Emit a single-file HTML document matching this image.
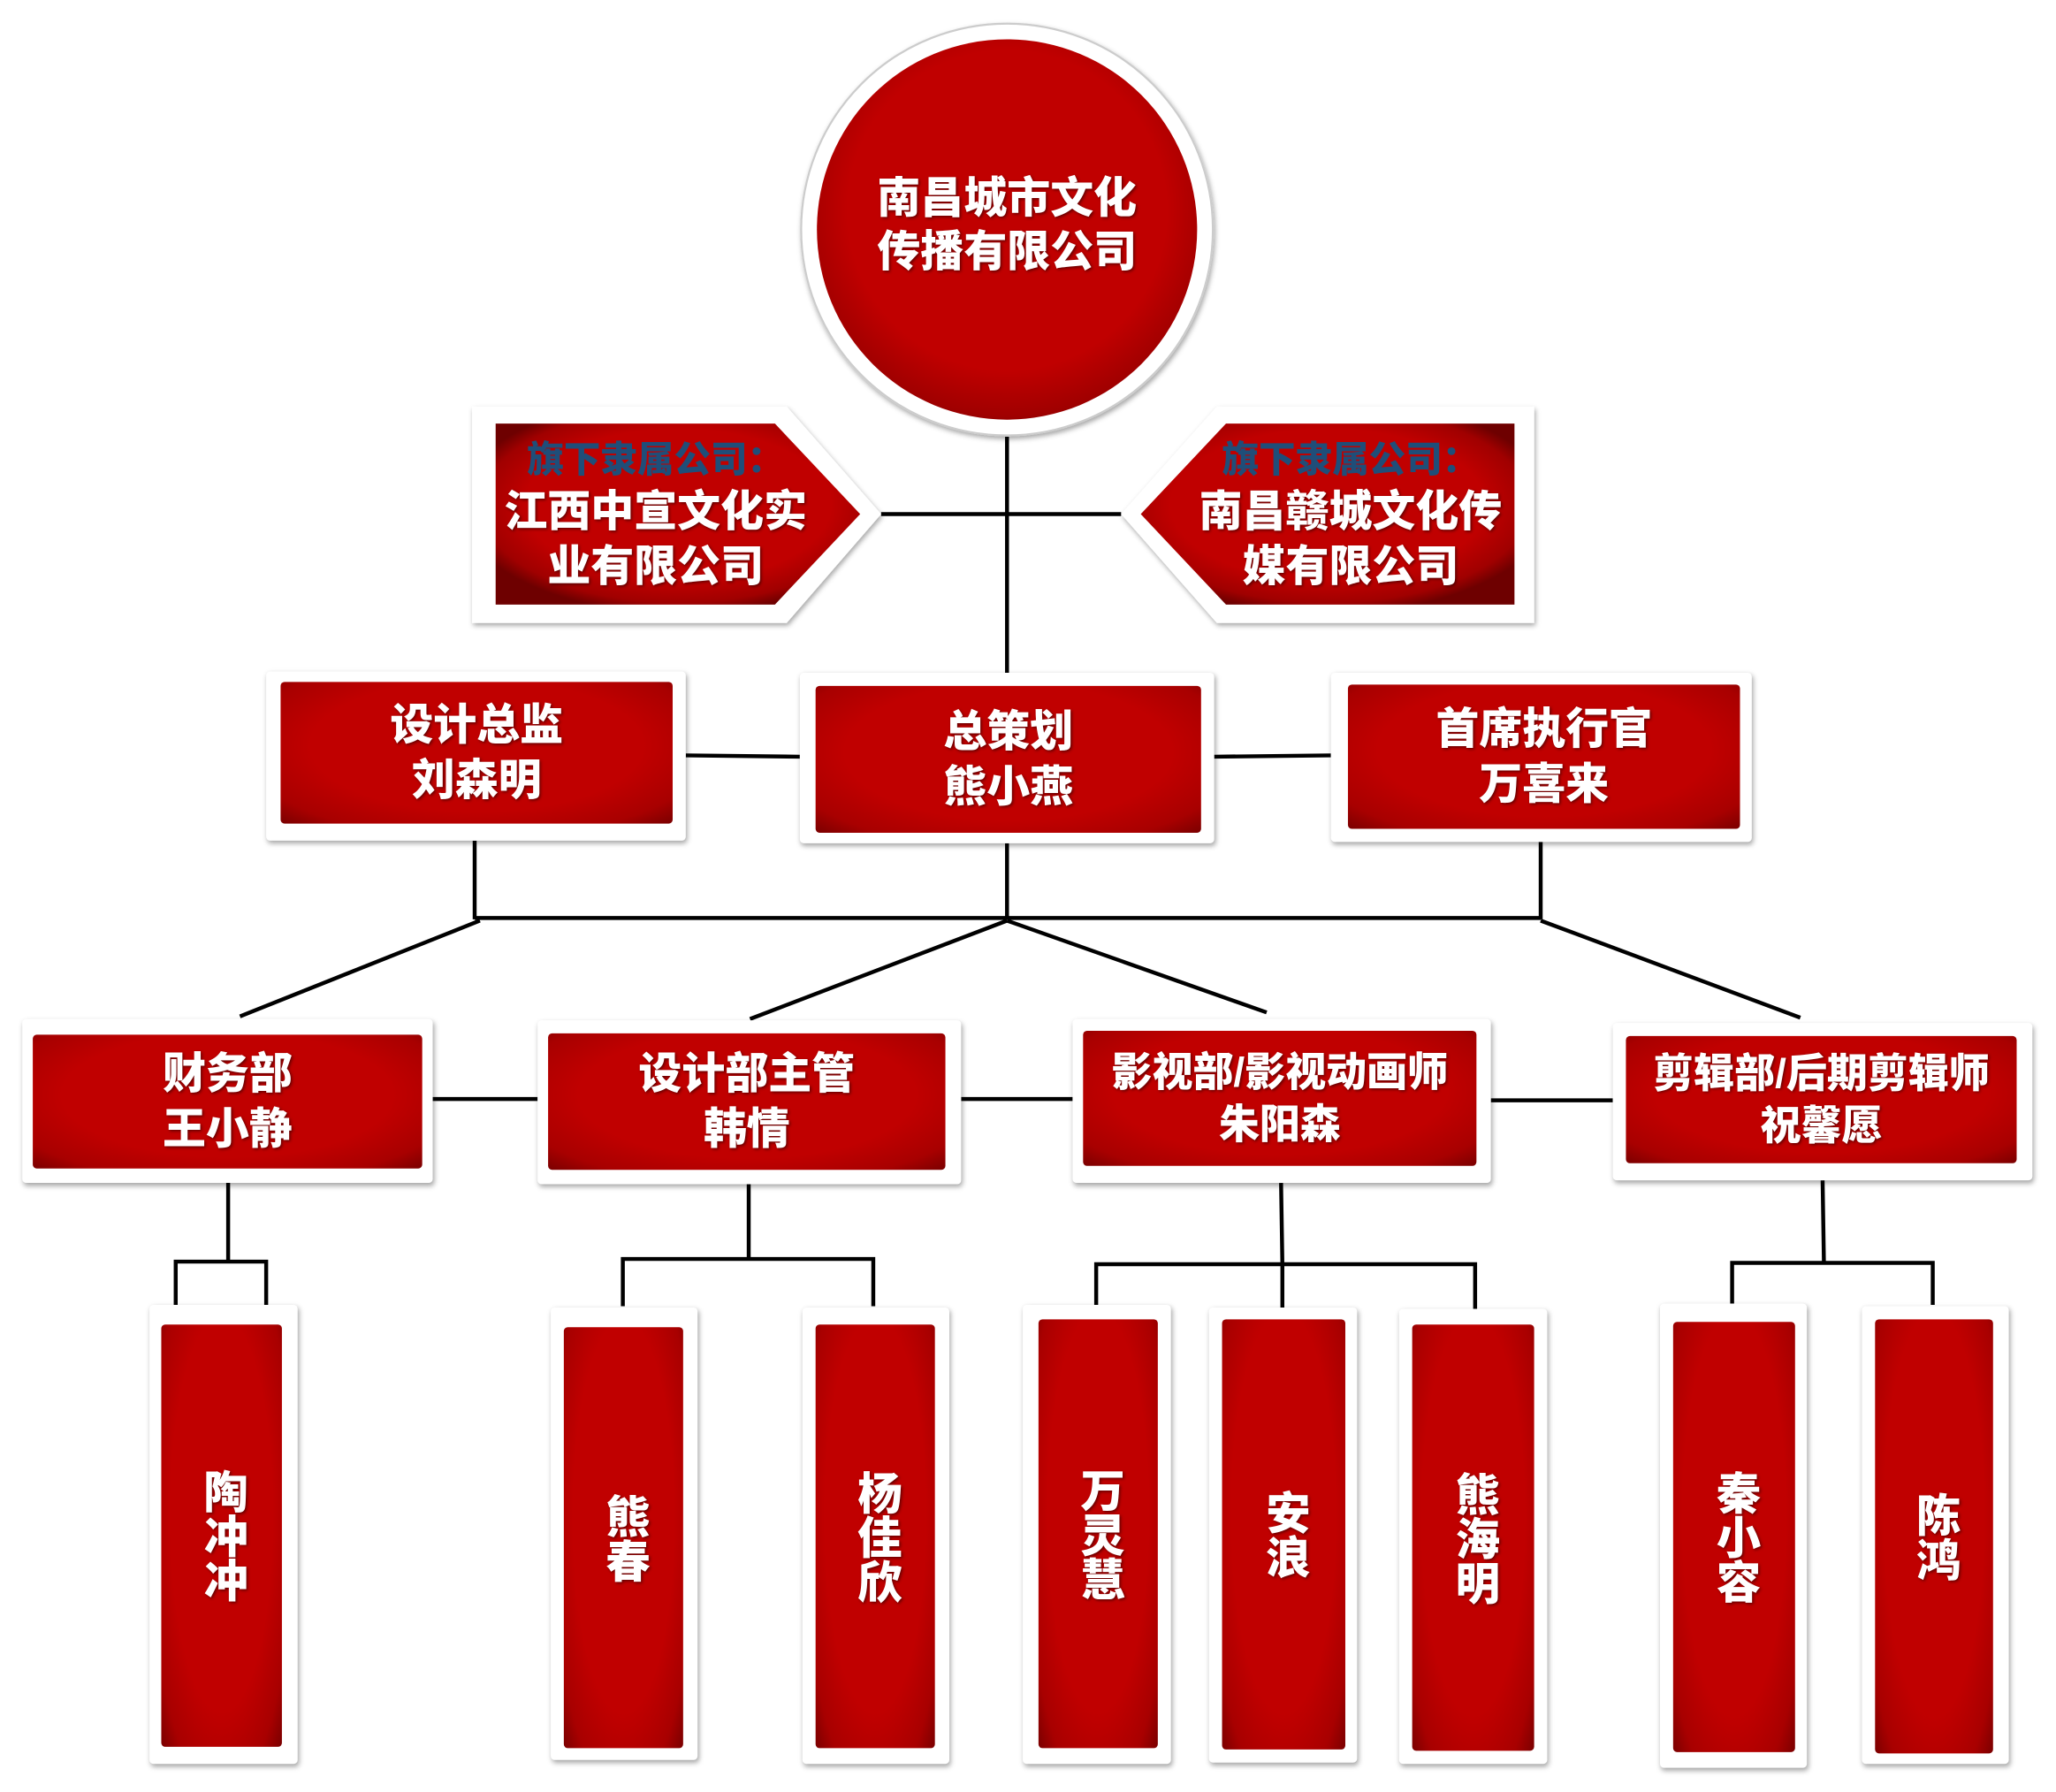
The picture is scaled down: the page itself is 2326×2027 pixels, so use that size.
<!DOCTYPE html>
<html><head><meta charset="utf-8">
<style>
html,body{margin:0;padding:0;background:#fff;width:2326px;height:2027px;overflow:hidden}
#w{position:absolute;left:0;top:0;width:1568px;height:1366px;transform:scale(1.48342);transform-origin:0 0;font-family:"Liberation Sans","Noto Sans CJK SC",sans-serif}
.f{position:absolute;background:#fff;box-shadow:1px 2px 4px rgba(0,0,0,.35);border-radius:3px}
.r{position:absolute;background:radial-gradient(ellipse at 50% 45%,#c00000 60%,#a80000 85%,#7a0000 100%);border-radius:3px;color:#fff;font-weight:900;display:flex;align-items:center;justify-content:center;text-align:center;text-shadow:1px 1px 2px rgba(0,0,0,.5);line-height:1.27}
.v{writing-mode:vertical-rl;font-size:34px;letter-spacing:0;line-height:1}
svg{position:absolute;left:0;top:0}
.t{position:absolute;color:#fff;font-weight:900;text-align:center;text-shadow:1px 1px 2px rgba(0,0,0,.5);line-height:1.25}
.b{color:#1f4e79;text-shadow:none}
</style></head><body><div id="w">
<svg width="1568" height="1366">
<defs>
<radialGradient id="g" cx="50%" cy="45%" r="60%"><stop offset="70%" stop-color="#c00000"/><stop offset="90%" stop-color="#a00000"/><stop offset="100%" stop-color="#6e0000"/></radialGradient>
<filter id="s"><feDropShadow dx="1" dy="2" stdDeviation="2" flood-opacity=".35"/></filter>
</defs>
<g stroke="#000" stroke-width="3" fill="none">
<line x1="768" y1="333" x2="768" y2="513"/>
<line x1="672" y1="392" x2="855" y2="392"/>
<line x1="523" y1="576" x2="610" y2="577"/>
<line x1="926" y1="577" x2="1015" y2="576"/>
<line x1="362" y1="641" x2="362" y2="701"/>
<line x1="768" y1="643" x2="768" y2="701"/>
<line x1="1175" y1="641" x2="1175" y2="701"/>
<line x1="362" y1="700" x2="1175" y2="700"/>
<line x1="366" y1="702" x2="183" y2="775"/>
<line x1="768" y1="702" x2="572" y2="777"/>
<line x1="768" y1="702" x2="966" y2="772"/>
<line x1="1175" y1="702" x2="1373" y2="776"/>
<line x1="330" y1="838" x2="410" y2="838"/>
<line x1="733" y1="838" x2="818" y2="838"/>
<line x1="1137" y1="839" x2="1230" y2="839"/>
<polyline points="174,902 174,962"/><polyline points="134,996 134,962 203,962 203,996"/>
<polyline points="571,903 571,960"/><polyline points="475,996 475,960 666,960 666,996"/>
<polyline points="977,902 978,964"/><polyline points="836,998 836,964 1125,964 1125,998"/><line x1="978" y1="964" x2="978" y2="998"/>
<polyline points="1390,900 1391,963"/><polyline points="1321,995 1321,963 1474,963 1474,995"/>
</g>
<circle cx="768" cy="175" r="157" fill="#fff" stroke="#ccc" stroke-width="1.5" filter="url(#s)"/>
<circle cx="768" cy="175" r="145" fill="url(#g)"/>
<polygon points="360,310 600,310 672,392 600,475 360,475" fill="#fff" filter="url(#s)"/>
<polygon points="378,323 591,323 656,392 591,461 378,461" fill="url(#g)"/>
<polygon points="1170,310 928,310 855,392 928,475 1170,475" fill="#fff" filter="url(#s)"/>
<polygon points="1155,323 935,323 870,392 935,461 1155,461" fill="url(#g)"/>
</svg>
<div class="t" style="left:620px;top:130px;width:296px;font-size:33px">南昌城市文化<br>传播有限公司</div>
<div class="t" style="left:370px;top:328px;width:260px;font-size:33px"><span class="b" style="font-size:28px">旗下隶属公司：</span><br>江西中宣文化实<br>业有限公司</div>
<div class="t" style="left:900px;top:328px;width:260px;font-size:33px"><span class="b" style="font-size:28px">旗下隶属公司：</span><br>南昌赣城文化传<br>媒有限公司</div>

<div class="f" style="left:203px;top:512px;width:320px;height:129px"></div><div class="r" style="left:214px;top:520px;width:299px;height:108px;font-size:33px">设计总监<br>刘森明</div>
<div class="f" style="left:610px;top:513px;width:316px;height:130px"></div><div class="r" style="left:622px;top:523px;width:294px;height:112px;font-size:33px">总策划<br>熊小燕</div>
<div class="f" style="left:1015px;top:513px;width:321px;height:129px"></div><div class="r" style="left:1028px;top:522px;width:299px;height:110px;font-size:33px">首席执行官<br>万喜来</div>

<div class="f" style="left:17px;top:777px;width:313px;height:125px"></div><div class="r" style="left:25px;top:789px;width:297px;height:102px;font-size:33px">财务部<br>王小静</div>
<div class="f" style="left:410px;top:778px;width:323px;height:125px"></div><div class="r" style="left:418px;top:788px;width:303px;height:104px;font-size:33px">设计部主管<br>韩情</div>
<div class="f" style="left:818px;top:777px;width:319px;height:125px"></div><div class="r" style="left:826px;top:786px;width:300px;height:103px;font-size:31px">影视部/影视动画师<br>朱阳森</div>
<div class="f" style="left:1230px;top:780px;width:320px;height:120px"></div><div class="r" style="left:1240px;top:790px;width:298px;height:97px;font-size:31px">剪辑部/后期剪辑师<br>祝馨愿</div>

<div class="f" style="left:114px;top:995px;width:113px;height:350px"></div><div class="r v" style="left:123px;top:1010px;width:92px;height:322px">陶冲冲</div>
<div class="f" style="left:420px;top:997px;width:112px;height:345px"></div><div class="r v" style="left:430px;top:1012px;width:91px;height:321px">熊春</div>
<div class="f" style="left:612px;top:997px;width:112px;height:348px"></div><div class="r v" style="left:622px;top:1010px;width:91px;height:323px">杨佳欣</div>
<div class="f" style="left:780px;top:995px;width:113px;height:350px"></div><div class="r v" style="left:792px;top:1006px;width:91px;height:327px">万灵慧</div>
<div class="f" style="left:922px;top:997px;width:113px;height:347px"></div><div class="r v" style="left:932px;top:1006px;width:94px;height:328px">安浪</div>
<div class="f" style="left:1067px;top:998px;width:113px;height:347px"></div><div class="r v" style="left:1077px;top:1010px;width:93px;height:325px">熊海明</div>
<div class="f" style="left:1266px;top:994px;width:112px;height:354px"></div><div class="r v" style="left:1276px;top:1008px;width:93px;height:328px">秦小容</div>
<div class="f" style="left:1420px;top:996px;width:112px;height:349px"></div><div class="r v" style="left:1430px;top:1006px;width:90px;height:331px">陈鸿</div>
</div></body></html>
